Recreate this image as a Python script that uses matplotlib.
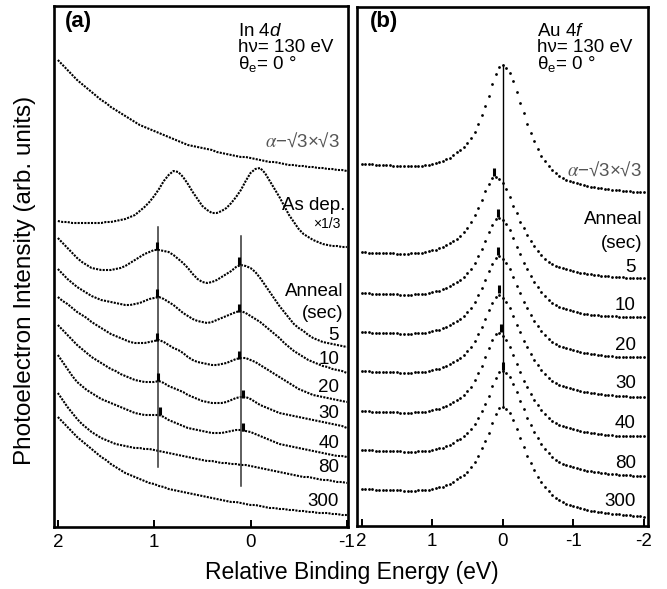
import numpy as np
import matplotlib
matplotlib.use("Agg")
import matplotlib.pyplot as plt

plt.rcParams["font.family"] = ["Liberation Sans", "DejaVu Sans"]
plt.rcParams["mathtext.fontset"] = "custom"
plt.rcParams["mathtext.rm"] = "Liberation Sans"
plt.rcParams["mathtext.it"] = "Liberation Sans:italic"
plt.rcParams["axes.unicode_minus"] = False

# (a) In 4d, relative binding energy 2.0 ... -1.0 eV, intensities in arb. units (stacked)
energy_a = np.round(np.arange(2.0, -1.0001, -0.05), 2)

in_alpha = [466, 461, 456, 451, 446, 442, 438, 434, 430, 426,
            423, 419, 416, 413, 410, 407, 404, 401, 399, 397,
            395, 393, 391, 389, 387, 385, 383, 381, 380, 379,
            378, 377, 376, 374, 373, 372, 371, 370, 369, 369,
            368, 367, 366, 365, 364, 364, 363, 362, 361, 361,
            360, 360, 359, 359, 358, 358, 357, 357, 356, 356,
            355]
in_asdep = [305, 304, 304, 303, 303, 303, 303, 303, 303, 303,
            304, 304, 305, 306, 307, 309, 311, 315, 319, 324,
            330, 337, 345, 351, 355, 354, 349, 342, 334, 327,
            320, 316, 313, 313, 315, 318, 323, 329, 336, 345,
            353, 357, 358, 353, 345, 337, 329, 320, 311, 304,
            297, 292, 289, 286, 284, 282, 281, 280, 280, 279,
            279]
in_5 = [288, 283, 278, 273, 268, 264, 261, 258, 257, 256,
        256, 256, 257, 258, 260, 263, 266, 269, 272, 274,
        276, 276, 275, 274, 271, 267, 263, 258, 252, 247,
        244, 243, 244, 246, 249, 252, 255, 259, 261, 260,
        258, 254, 248, 241, 234, 227, 220, 214, 208, 202,
        198, 195, 191, 188, 186, 184, 183, 182, 181, 180,
        179]
in_10 = [257, 252, 247, 243, 239, 236, 233, 230, 228, 226,
         225, 224, 223, 222, 221, 221, 222, 223, 225, 227,
         228, 229, 227, 224, 221, 217, 213, 210, 207, 205,
         204, 203, 204, 206, 208, 210, 212, 214, 215, 213,
         210, 207, 204, 200, 196, 192, 188, 183, 179, 175,
         172, 169, 166, 164, 162, 160, 159, 157, 156, 155,
         153]
in_20 = [229, 225, 222, 218, 214, 211, 208, 204, 201, 198,
         195, 192, 190, 188, 186, 184, 183, 183, 183, 184,
         185, 186, 184, 181, 178, 176, 173, 169, 166, 164,
         163, 162, 161, 161, 162, 163, 165, 167, 168, 168,
         166, 164, 161, 158, 155, 152, 149, 146, 143, 140,
         137, 135, 133, 131, 130, 129, 128, 127, 126, 125,
         124]
in_30 = [201, 196, 191, 186, 181, 177, 173, 169, 166, 163,
         160, 157, 155, 152, 150, 148, 146, 145, 144, 144,
         144, 145, 143, 140, 138, 136, 134, 131, 129, 127,
         125, 124, 123, 123, 123, 124, 126, 128, 129, 129,
         127, 124, 121, 119, 117, 115, 113, 112, 111, 110,
         109, 108, 107, 106, 105, 104, 103, 102, 101, 100,
         98]
in_40 = [171, 164, 157, 150, 144, 140, 136, 133, 130, 127,
         125, 123, 121, 119, 117, 115, 113, 112, 111, 111,
         111, 111, 109, 106, 104, 102, 100, 98, 97, 96,
         95, 94, 93, 93, 93, 94, 95, 96, 96, 95,
         94, 92, 90, 88, 86, 84, 82, 81, 80, 79,
         78, 77, 76, 75, 74, 73, 72, 71, 70, 70,
         69]
in_80 = [133, 126, 119, 113, 107, 102, 98, 94, 91, 88,
         86, 84, 82, 81, 80, 79, 78, 78, 77, 77,
         76, 75, 74, 73, 72, 71, 70, 69, 68, 67,
         66, 65, 65, 64, 63, 63, 62, 62, 61, 61,
         60, 59, 58, 57, 56, 55, 54, 53, 52, 51,
         50, 49, 49, 48, 47, 46, 46, 45, 44, 44,
         43]
in_300 = [109, 104, 99, 94, 89, 85, 81, 77, 73, 69,
          66, 62, 59, 56, 53, 51, 49, 47, 45, 43,
          42, 40, 39, 37, 36, 35, 34, 33, 32, 31,
          30, 29, 28, 27, 26, 25, 24, 24, 23, 22,
          21, 21, 20, 19, 18, 18, 17, 17, 16, 16,
          15, 15, 14, 14, 13, 13, 13, 12, 12, 11,
          11]

# peak markers in (a): energies and intensities of the two components (5 ... 40 s)
in_peak_hi_e = [0.97, 0.97, 0.97, 0.96, 0.94]
in_peak_hi_v = [276, 229, 185, 145, 111]
in_peak_lo_e = [0.12, 0.12, 0.12, 0.08, 0.08]
in_peak_lo_v = [261, 214, 167, 128, 95]

# (b) Au 4f, relative binding energy 2.0 ... -2.0 eV
energy_b = np.round(np.arange(2.0, -2.0001, -0.05), 2)

au_alpha = [362, 362, 362, 362, 361, 361, 361, 361, 361, 360,
            360, 360, 360, 360, 360, 360, 360, 360, 361, 361,
            362, 363, 364, 365, 367, 368, 371, 374, 376, 379,
            383, 388, 394, 402, 411, 420, 430, 442, 452, 459,
            461, 458, 453, 445, 434, 423, 413, 402, 393, 385,
            377, 370, 365, 360, 356, 353, 350, 348, 346, 345,
            344, 343, 342, 341, 340, 339, 339, 338, 338, 337,
            337, 336, 336, 336, 335, 335, 335, 334, 334, 334,
            334]
au_5 = [274, 274, 273, 273, 273, 273, 273, 273, 273, 273,
        272, 272, 272, 272, 273, 273, 273, 273, 274, 275,
        276, 276, 278, 279, 281, 283, 285, 287, 290, 294,
        298, 304, 311, 318, 326, 335, 342, 348, 349, 347,
        343, 337, 329, 320, 313, 304, 298, 291, 285, 280,
        275, 271, 267, 264, 262, 260, 259, 258, 257, 256,
        255, 254, 253, 253, 252, 252, 251, 251, 250, 250,
        250, 249, 249, 249, 249, 248, 248, 248, 248, 248,
        248]
au_10 = [233, 233, 233, 232, 232, 232, 232, 232, 232, 232,
         232, 231, 231, 231, 231, 232, 232, 232, 232, 233,
         234, 235, 235, 237, 238, 240, 242, 244, 246, 249,
         253, 257, 263, 270, 277, 285, 294, 301, 307, 308,
         306, 302, 296, 288, 279, 272, 263, 257, 250, 244,
         239, 234, 230, 226, 223, 221, 219, 218, 217, 216,
         215, 214, 213, 212, 212, 211, 211, 211, 210, 210,
         210, 210, 210, 209, 209, 209, 209, 209, 209, 209,
         209]
au_20 = [194, 194, 194, 193, 193, 193, 193, 193, 193, 193,
         193, 192, 192, 192, 192, 193, 193, 193, 193, 194,
         195, 196, 196, 198, 199, 201, 203, 205, 207, 210,
         214, 218, 224, 231, 238, 246, 255, 262, 268, 270,
         267, 263, 257, 249, 240, 233, 224, 218, 211, 205,
         200, 195, 191, 187, 184, 182, 180, 179, 178, 177,
         176, 175, 174, 173, 173, 172, 172, 171, 171, 170,
         170, 170, 169, 169, 169, 169, 169, 169, 169, 169,
         169]
au_30 = [155, 155, 155, 154, 154, 154, 154, 154, 154, 154,
         154, 153, 153, 153, 153, 154, 154, 154, 154, 155,
         156, 157, 157, 159, 160, 162, 164, 166, 168, 171,
         175, 179, 185, 192, 199, 207, 216, 223, 229, 231,
         228, 224, 218, 210, 201, 194, 185, 179, 172, 166,
         161, 156, 152, 148, 145, 143, 141, 140, 139, 138,
         137, 136, 135, 134, 134, 133, 133, 132, 132, 131,
         131, 131, 130, 130, 130, 130, 129, 129, 129, 129,
         129]
au_40 = [115, 115, 115, 114, 114, 114, 114, 114, 114, 114,
         114, 113, 113, 113, 113, 114, 114, 114, 114, 115,
         116, 117, 117, 119, 120, 122, 124, 126, 128, 131,
         135, 139, 146, 153, 160, 169, 178, 186, 192, 193,
         190, 186, 179, 171, 162, 154, 145, 139, 132, 126,
         121, 116, 112, 108, 105, 103, 101, 100, 99, 98,
         97, 96, 95, 94, 94, 93, 93, 92, 92, 91,
         91, 91, 90, 90, 90, 90, 90, 90, 90, 90,
         90]
au_80 = [76, 76, 76, 76, 75, 75, 75, 75, 75, 75,
         75, 75, 74, 74, 74, 74, 75, 75, 75, 75,
         76, 77, 78, 78, 80, 81, 83, 86, 87, 90,
         93, 97, 102, 108, 115, 122, 130, 140, 148, 154,
         155, 153, 149, 142, 134, 125, 117, 108, 101, 94,
         88, 82, 77, 73, 69, 66, 64, 62, 61, 60,
         59, 58, 57, 56, 55, 55, 54, 54, 53, 53,
         52, 52, 52, 51, 51, 51, 51, 50, 50, 50,
         50]
au_300 = [37, 37, 37, 37, 36, 36, 36, 36, 36, 36,
          36, 36, 35, 35, 35, 35, 36, 36, 36, 36,
          37, 38, 39, 39, 41, 42, 44, 47, 49, 51,
          54, 59, 64, 70, 78, 85, 93, 103, 112, 118,
          119, 117, 113, 106, 97, 88, 79, 70, 63, 56,
          49, 44, 39, 35, 31, 28, 26, 24, 22, 21,
          20, 19, 18, 17, 16, 15, 15, 14, 14, 13,
          13, 12, 12, 12, 11, 11, 11, 10, 10, 10,
          9]

au_peak_e = [0.12, 0.07, 0.07, 0.05, 0.03, 0.0]
au_peak_v = [350, 309, 271, 233, 194, 156]

anneal_sec = ["5", "10", "20", "30", "40", "80", "300"]

TXT = 13.5


def _frame(ax):
    for s in ax.spines.values():
        s.set_linewidth(1.9)
    ax.set_yticks([])
    ax.tick_params(axis="x", direction="in", length=5, width=1.4,
                   labelsize=13.5, pad=5, top=False)


def _bars(ax, es, vs, h=8):
    for e, v in zip(es, vs):
        ax.plot([e, e], [v, v + h], color="k", lw=2.2, solid_capstyle="butt")


fig = plt.figure(figsize=(6.67, 5.89), dpi=100)

# ---- (a) In 4d
ax = fig.add_axes([54 / 667, 62 / 589, 294 / 667, 521 / 589])
for y in (in_alpha, in_asdep, in_5, in_10, in_20, in_30, in_40, in_80, in_300):
    ax.plot(energy_a, y, color="k", lw=1.5, ls=(0, (1.0, 0.6)))
ax.plot([0.96, 0.96], [59, 299], color="#333333", lw=1.1)
ax.plot([0.10, 0.10], [40, 290], color="#333333", lw=1.1)
_bars(ax, in_peak_hi_e, in_peak_hi_v)
_bars(ax, in_peak_lo_e, in_peak_lo_v)
ax.set_xlim(2.04, -1.012)
ax.set_ylim(-1, 520)
ax.set_xticks([2, 1, 0, -1])
ax.set_xticklabels(["2", "1", "0", "-1"])
_frame(ax)

ax.text(1.93, 504, "(a)", fontsize=16, fontweight="bold", va="center")
ax.text(0.13, 495, "In 4$\\mathit{d}$", fontsize=TXT, va="center")
ax.text(0.13, 479, "h\u03bd= 130 eV", fontsize=TXT, va="center")
ax.text(0.13, 462, "\u03b8$_\\mathrm{e}$= 0 \u00b0", fontsize=TXT, va="center")
ax.text(-0.93, 385, "$\\alpha$\u2212\u221a3\u00d7\u221a3", fontsize=TXT, ha="right",
        va="center", color="#555555", math_fontfamily="stix")
ax.text(-0.98, 321, "As dep.", fontsize=TXT, ha="right", va="center")
ax.text(-0.93, 302, "\u00d71/3", fontsize=10, ha="right", va="center")
ax.text(-0.96, 234, "Anneal", fontsize=TXT, ha="right", va="center")
ax.text(-0.96, 213, "(sec)", fontsize=TXT, ha="right", va="center")
for lab, v in zip(anneal_sec, [191, 166, 138, 113, 83, 58, 24]):
    ax.text(-0.92, v, lab, fontsize=TXT, ha="right", va="center")

# ---- (b) Au 4f
ax = fig.add_axes([357 / 667, 63 / 589, 291 / 667, 519 / 589])
for y in (au_alpha, au_5, au_10, au_20, au_30, au_40, au_80, au_300):
    ax.plot(energy_b, y, ls="none", marker="o", ms=2.0, mec="none", color="k")
ax.plot([0.0, 0.0], [119, 461], color="k", lw=1.0)
_bars(ax, au_peak_e, au_peak_v)
ax.set_xlim(2.067, -2.061)
ax.set_ylim(0, 519)
ax.set_xticks([2, 1, 0, -1, -2])
ax.set_xticklabels(["2", "1", "0", "-1", "-2"])
_frame(ax)

ax.text(1.88, 504, "(b)", fontsize=16, fontweight="bold", va="center")
ax.text(-0.49, 495, "Au 4$\\mathit{f}$", fontsize=TXT, va="center")
ax.text(-0.49, 479, "h\u03bd= 130 eV", fontsize=TXT, va="center")
ax.text(-0.49, 462, "\u03b8$_\\mathrm{e}$= 0 \u00b0", fontsize=TXT, va="center")
ax.text(-1.98, 356, "$\\alpha$\u2212\u221a3\u00d7\u221a3", fontsize=TXT, ha="right",
        va="center", color="#555555", math_fontfamily="stix")
ax.text(-1.98, 306, "Anneal", fontsize=TXT, ha="right", va="center")
ax.text(-1.98, 283, "(sec)", fontsize=TXT, ha="right", va="center")
for lab, v in zip(anneal_sec, [258, 221, 181, 142, 103, 63, 25]):
    ax.text(-1.89, v, lab, fontsize=TXT, ha="right", va="center")

fig.text(352 / 667, 1 - 573 / 589, "Relative Binding Energy (eV)", fontsize=16.5,
         ha="center", va="center")
fig.text(25 / 667, 1 - 280 / 589, "Photoelectron Intensity (arb. units)", fontsize=17.5,
         ha="center", va="center", rotation=90)

fig.savefig("out.png", dpi=100)
